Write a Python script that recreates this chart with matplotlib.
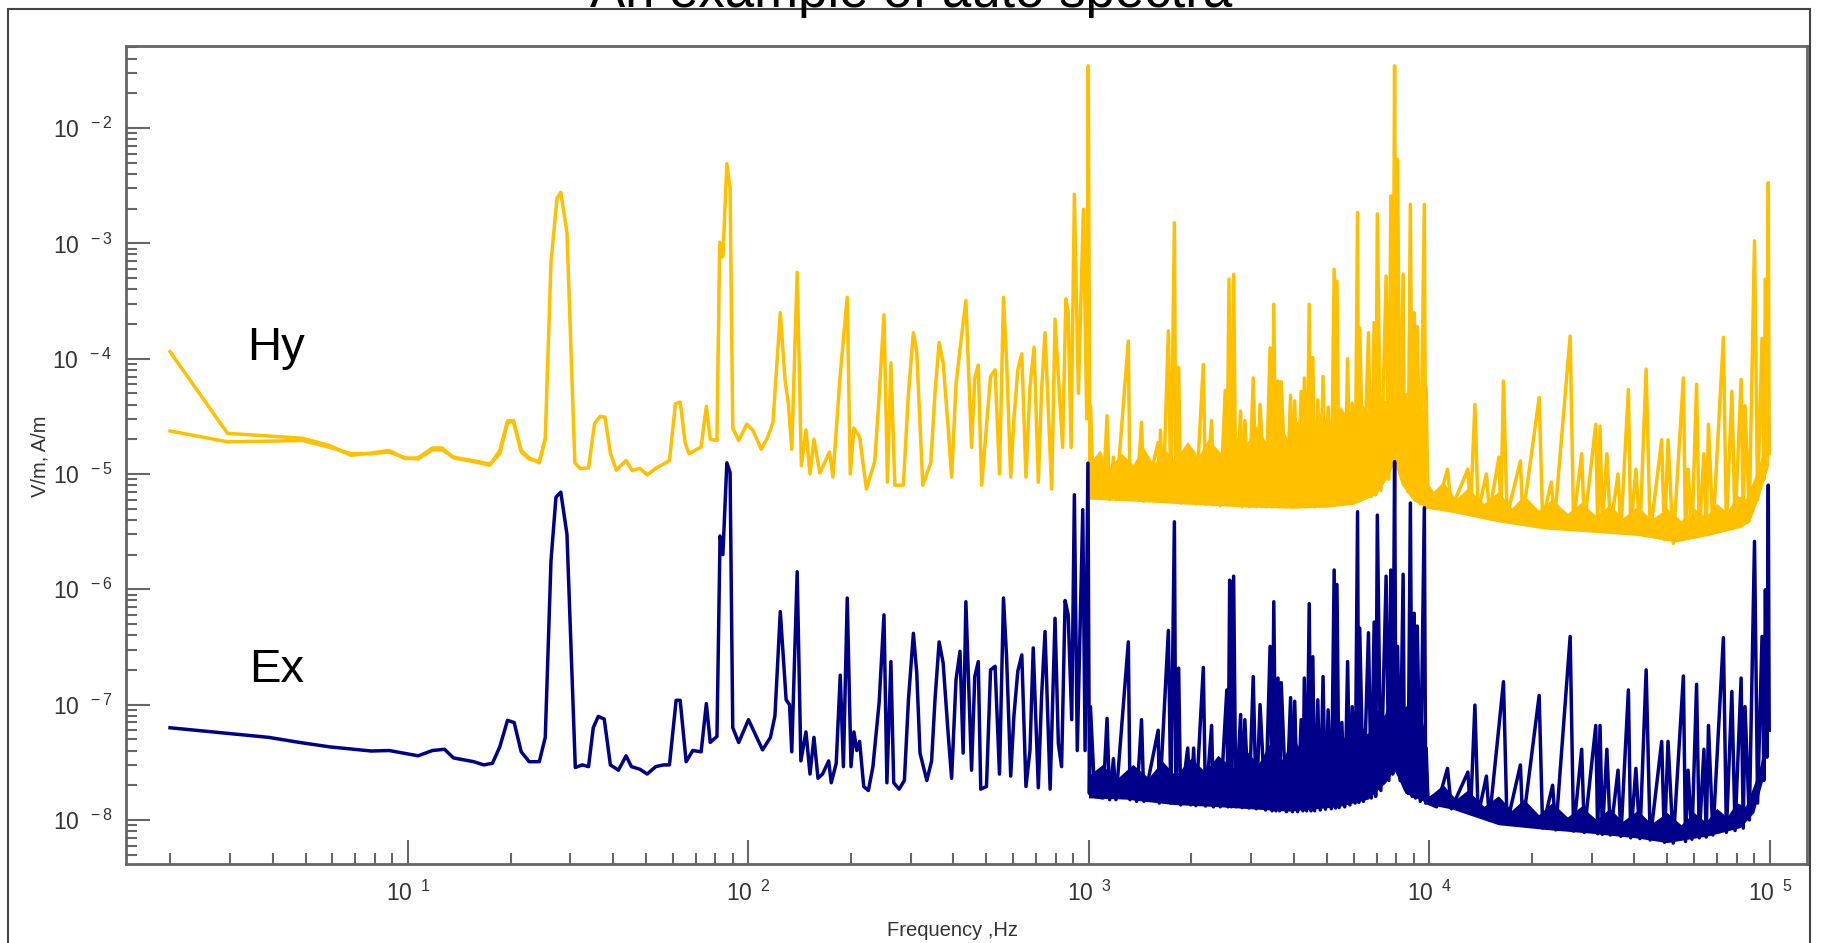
import numpy as np
import matplotlib
matplotlib.use("Agg")
import matplotlib.pyplot as plt
from matplotlib.ticker import LogLocator, FuncFormatter, NullFormatter
from matplotlib.patches import Rectangle

# ---- data (Hz, V/m or A/m) ----

# Hy trace
hy_f = [2.0, 2.95, 4.9, 5.9, 6.8, 7.8, 8.8, 9.8, 10.7, 11.8, 12.6, 13.6, 15.6, 17.4, 18.6,
        19.6, 20.4, 21.5, 22.7, 24.3, 25.3, 26.3, 27.4, 28.1, 29.3, 30.9, 32.1, 33.9, 35.3,
        36.7, 37.9, 39.3, 40.9, 43.7, 45.5, 48, 50.4, 53.4, 56.3, 58.6, 61, 63, 65.2, 66.9,
        72.6, 75.2, 77.2, 80.8, 82.3, 84.1, 86.4, 88.3, 89.9, 93.6,
        # 100 Hz - 1 kHz
        98.8, 103, 109, 114, 118, 124, 128, 131, 134, 139, 143, 147.5, 151.6, 155.7, 162,
        173, 177, 186, 195, 199, 204, 212, 222, 235, 242, 250, 256, 262, 269, 285, 295, 305,
        312, 325, 343, 353, 363, 373, 386, 395, 407, 418, 435, 452, 462, 473, 484, 514, 530,
        546, 561, 573, 589, 602, 618, 635, 653, 671, 690, 710, 726, 743, 777, 795, 813, 837,
        855, 869, 886, 906, 931, 963, 985, 995, 1007,
        # 1 kHz - 10 kHz
        1010, 1030, 1100, 1130, 1150, 1180, 1200, 1305, 1320, 1355, 1380, 1427, 1450, 1597,
        1610, 1622, 1650, 1711, 1740, 1782, 1800, 1834, 1860, 1971, 2000, 2030, 2060, 2167,
        2200, 2292, 2320, 2400, 2430, 2513, 2540, 2578, 2610, 2660, 2700, 2789, 2820, 2870,
        2950, 3037, 3100, 3180, 3300, 3404, 3450, 3490, 3540, 3591, 3630, 3670, 3800, 3910,
        3960, 4020, 4100, 4200, 4250, 4290, 4360, 4435, 4490, 4545, 4600, 4700, 4780, 4870,
        4950, 5040, 5150, 5250, 5300, 5350, 5430, 5530, 5640, 5750, 5840, 5930, 6050, 6150,
        6200, 6240, 6400, 6620, 6750, 6880, 6950, 7030, 7200, 7460, 7600, 7700, 7800, 7900,
        7980, 8060, 8200, 8370, 8450, 8560, 8650, 8790, 8900, 9020, 9100, 9210, 9400, 9660,
        9750, 9780, 9900,
        # 10 kHz - 100 kHz
        10500, 11300, 11600, 12970, 13200, 13600, 13900, 14700, 15000, 16000, 16200, 16500,
        16900, 18500, 18800, 21000, 21500, 22800, 23300, 25900, 26500, 28000, 28500, 30800,
        31200, 31700, 32200, 33200, 34000, 35800, 36500, 38400, 39000, 40400, 41500, 43300,
        44500, 48100, 49000, 50200, 52000, 55700, 56500, 57500, 59000, 60900, 62000, 64000,
        65000, 66000, 68000, 73000, 74500, 77300, 79000, 82300, 83500, 84500, 87000, 90100,
        92000, 94800, 96000, 97000, 98000, 98900, 99500]
hy_v = [1.15e-4, 2.25e-5, 2.04e-5, 1.76e-5, 1.45e-5, 1.52e-5, 1.6e-5, 1.36e-5, 1.38e-5, 1.68e-5,
        1.68e-5, 1.38e-5, 1.28e-5, 1.19e-5, 1.6e-5, 2.88e-5, 2.9e-5, 1.6e-5, 1.38e-5, 1.25e-5,
        2.04e-5, 6.9e-4, 2.47e-3, 2.77e-3, 1.24e-3, 1.25e-5, 1.11e-5, 1.13e-5, 2.74e-5, 3.17e-5,
        3.1e-5, 1.52e-5, 1.08e-5, 1.31e-5, 1.07e-5, 1.12e-5, 9.8e-6, 1.12e-5, 1.22e-5, 1.31e-5,
        4.05e-5, 4.2e-5, 1.85e-5, 1.5e-5, 1.72e-5, 3.86e-5, 2.0e-5, 1.95e-5, 1.02e-3, 7.6e-4,
        4.9e-3, 3.0e-3, 2.5e-5, 1.95e-5,
        2.7e-5, 2.4e-5, 1.64e-5, 2.1e-5, 2.8e-5, 2.5e-4, 6.6e-5, 4e-5, 1.64e-5, 5.6e-4, 1.18e-5,
        2.4e-5, 1e-5, 2e-5, 1.02e-5, 1.55e-5, 9.4e-6, 7.3e-5, 3.4e-4, 1e-5, 2.5e-5, 2.1e-5,
        7.4e-6, 1.3e-5, 4.8e-5, 2.4e-4, 8.5e-6, 9.2e-5, 8e-6, 8e-6, 5e-5, 1.68e-4, 1.15e-4, 8e-6,
        1.25e-5, 5e-5, 1.38e-4, 9.2e-5, 2.5e-5, 9.4e-6, 6e-5, 1.2e-4, 3.2e-4, 1.7e-5, 6.8e-5,
        8.8e-5, 8e-6, 7e-5, 8e-5, 1e-5, 3.4e-4, 9.5e-5, 9.4e-6, 3e-5, 8e-5, 1.1e-4, 9.4e-6,
        5.7e-5, 1.26e-4, 8.5e-6, 5.4e-5, 1.68e-4, 7.4e-6, 2.2e-4, 7e-5, 1.7e-5, 3.3e-4, 2.5e-4,
        1.7e-5, 2.66e-3, 5e-5, 1.97e-3, 3e-5, 3.45e-2, 6.9e-6,
        3.9e-5, 6.5e-6, 6.2e-6, 3.2e-5, 6e-6, 1.4e-5, 6e-6, 1.42e-4, 6e-6, 1.1e-5, 6e-6, 2.8e-5,
        5.8e-6, 1.87e-5, 6e-6, 2.4e-5, 5.8e-6, 1.74e-4, 5.8e-6, 1.51e-3, 6e-6, 8.4e-5, 5.6e-6,
        1.6e-5, 5.6e-6, 1.55e-5, 5.5e-6, 8.9e-5, 5.5e-6, 2.9e-5, 5.4e-6, 1.3e-5, 5.3e-6, 5.3e-5,
        5.4e-6, 4.9e-4, 5.6e-6, 5.4e-4, 5.4e-6, 3.5e-5, 5.2e-6, 2.9e-5, 5.2e-6, 6.8e-5, 5.2e-6,
        4e-5, 5.2e-6, 1.24e-4, 5.2e-6, 2.96e-4, 5.4e-6, 6.4e-5, 5.2e-6, 6.3e-5, 5.2e-6, 4.8e-5,
        5.2e-6, 4.3e-5, 5.2e-6, 5.2e-5, 5.3e-6, 6.8e-5, 5.3e-6, 2.96e-4, 5.3e-6, 1.02e-4, 5.2e-6,
        4.4e-5, 5.3e-6, 7e-5, 5.3e-6, 3.8e-5, 5.4e-6, 5.95e-4, 5.6e-6, 4.7e-4, 5.6e-6, 2.7e-5,
        5.6e-6, 1e-4, 5.8e-6, 4.1e-5, 6e-6, 1.85e-3, 6e-6, 1.85e-4, 6.2e-6, 1.68e-4, 6.4e-6,
        2.05e-4, 6.6e-6, 1.8e-3, 7.2e-6, 5.2e-4, 9e-6, 2.57e-3, 1.2e-5, 3.45e-2, 1.3e-5, 5.35e-3,
        1e-5, 5.4e-4, 8e-6, 4.9e-5, 7e-6, 2.18e-3, 6.5e-6, 2.5e-4, 6e-6, 1.9e-4, 5.5e-6, 2.18e-3,
        5e-6, 5.5e-5, 5.2e-6,
        5e-6, 1.1e-5, 5e-6, 1.1e-5, 4.8e-6, 4e-5, 4.7e-6, 1e-5, 4.6e-6, 1.4e-5, 4.4e-6, 6.4e-5,
        4.3e-6, 1.3e-5, 4.2e-6, 4.6e-5, 4e-6, 8.5e-6, 3.9e-6, 1.57e-4, 3.8e-6, 1.5e-5, 3.6e-6,
        2.7e-5, 3.5e-6, 2.6e-5, 3.5e-6, 1.5e-5, 3.4e-6, 1e-5, 3.3e-6, 5.4e-5, 3.2e-6, 1.1e-5,
        3.1e-6, 8.1e-5, 3e-6, 1.98e-5, 2.7e-6, 1.98e-5, 2.5e-6, 6.8e-5, 2.8e-6, 1.1e-5, 2.9e-6,
        6e-5, 3e-6, 1.5e-5, 3.1e-6, 2.7e-5, 3.2e-6, 1.53e-4, 3.4e-6, 5.2e-5, 3.6e-6, 6.6e-5,
        3.8e-6, 3.9e-5, 4.5e-6, 1.05e-3, 6e-6, 1.5e-4, 9e-6, 4.9e-4, 1.2e-5, 3.36e-3, 1.5e-5]

# second Hy pass visible at the low end
hy2_f = [2.0, 2.95, 4.9, 5.9, 6.8, 7.8, 8.8, 9.8, 10.7, 11.8, 12.6, 13.6, 15.6, 17.4, 18.6,
         19.6, 20.4, 21.5, 22.7, 24.3, 25.3]
hy2_v = [2.36e-5, 1.9e-5, 1.95e-5, 1.7e-5, 1.5e-5, 1.5e-5, 1.55e-5, 1.38e-5, 1.35e-5, 1.62e-5,
         1.62e-5, 1.4e-5, 1.3e-5, 1.22e-5, 1.5e-5, 2.8e-5, 2.85e-5, 1.55e-5, 1.35e-5, 1.28e-5,
         2.0e-5]

# dense noise of Hy above 1 kHz: upper and lower edge of the solid part
hy_top_f = [1000, 1080, 1150, 1250, 1350, 1450, 1550, 1680, 1800, 1950, 2100, 2250, 2450,
            2650, 2850, 3100, 3350, 3600, 3850, 4150, 4450, 4800, 5150, 5500, 5900, 6300,
            6700, 7100, 7500, 7900, 8300, 8700, 9100, 9500, 9800,
            10000, 10300, 11000, 12000, 13000, 14500, 16000, 17500, 19000, 21000, 23000,
            25500, 28000, 31000, 34000, 37000, 41000, 45000, 50000, 55000, 60000, 65000,
            70000, 75000, 80000, 85000, 90000, 94000, 97000, 99500]
hy_top_v = [1.2e-5, 1.6e-5, 1.1e-5, 1.5e-5, 1.2e-5, 1.7e-5, 1.2e-5, 1.6e-5, 1.3e-5, 1.9e-5,
            1.4e-5, 2e-5, 1.5e-5, 2.4e-5, 1.6e-5, 2.6e-5, 1.8e-5, 2.8e-5, 2e-5, 3e-5, 2.2e-5,
            3.4e-5, 2.5e-5, 3.8e-5, 2.8e-5, 4.2e-5, 3.2e-5, 5e-5, 4.2e-5, 7e-5, 4.5e-5, 5e-5,
            3.6e-5, 4e-5, 3e-5,
            8e-6, 7e-6, 8.5e-6, 6e-6, 7.5e-6, 5.5e-6, 7e-6, 5e-6, 6.5e-6, 4.8e-6, 6e-6, 4.5e-6,
            5.6e-6, 4.3e-6, 5.4e-6, 4.1e-6, 5.2e-6, 4e-6, 5e-6, 3.9e-6, 5e-6, 4.2e-6, 5.5e-6,
            4.6e-6, 6.5e-6, 6e-6, 9e-6, 1.3e-5, 2e-5, 3e-5]
hy_bot_f = [1000, 1300, 2000, 3000, 4000, 5000, 6000, 7000, 7600, 7900, 8300, 9000, 9800,
            10300, 11700, 16000, 21900, 30000, 41000, 53000, 66000, 82000, 87500, 93300,
            97800, 99500]
hy_bot_v = [6.0e-6, 5.8e-6, 5.4e-6, 5.1e-6, 5.0e-6, 5.1e-6, 5.4e-6, 6.6e-6, 9.5e-6, 1.26e-5,
            8e-6, 5.8e-6, 5.1e-6, 4.9e-6, 4.6e-6, 3.8e-6, 3.3e-6, 3.1e-6, 2.9e-6, 2.55e-6,
            2.9e-6, 3.4e-6, 3.8e-6, 6.4e-6, 1.0e-5, 1.2e-5]

# Ex trace
ex_f = [2.0, 3.9, 4.8, 5.9, 7.8, 8.8, 10.7, 11.8, 12.8, 13.6, 15.6, 16.7, 17.7, 18.6, 19.6,
        20.5, 21.5, 22.7, 24.3, 25.3, 26.3, 27.2, 28.1, 29.3, 31.0, 32.5, 33.9, 35.0, 36.2,
        37.7, 39.3, 41.5, 43.7, 45.3, 48, 50.4, 53.4, 56.3, 58.6, 61.3, 63, 65.6, 68.6, 72.6,
        75.2, 77.2, 80.8, 82.5, 84.1, 86.4, 88.3, 89.9, 93.6,
        # 100 Hz - 1 kHz
        100, 104.5, 110, 116, 119.6, 124, 129, 132, 134, 139, 142.5, 147.5, 151.6, 155.7, 160,
        165, 172, 175, 181, 186, 190, 195, 200, 204, 208, 212, 218, 225, 232, 242, 250, 255,
        262, 267, 277, 287, 295, 305, 312, 319, 334, 345, 353, 363, 373, 386, 395, 407, 418,
        427, 435, 452, 462, 473, 481, 500, 514, 530, 546, 561, 573, 589, 602, 618, 635, 653,
        671, 686, 710, 726, 743, 769, 795, 813, 831, 851, 869, 890, 906, 924, 959, 974, 993,
        1003,
        # 1 kHz - 10 kHz
        1010, 1040, 1100, 1130, 1150, 1180, 1200, 1305, 1320, 1355, 1380, 1427, 1450, 1597,
        1610, 1711, 1740, 1782, 1800, 1834, 1860, 1950, 1990, 2030, 2060, 2167, 2200, 2292,
        2320, 2400, 2430, 2540, 2560, 2590, 2620, 2660, 2700, 2789, 2820, 2870, 2950, 3037,
        3100, 3180, 3300, 3404, 3450, 3490, 3540, 3591, 3630, 3670, 3800, 3910, 3960, 4020,
        4100, 4200, 4250, 4290, 4360, 4435, 4490, 4545, 4600, 4700, 4780, 4870, 4950, 5040,
        5150, 5250, 5300, 5350, 5430, 5530, 5640, 5750, 5840, 5930, 6050, 6150, 6200, 6240,
        6400, 6620, 6750, 6880, 6950, 7030, 7200, 7460, 7600, 7700, 7800, 7900, 7980, 8060,
        8200, 8370, 8450, 8650, 8790, 8900, 9020, 9100, 9210, 9400, 9660, 9750, 9780, 9900,
        # 10 kHz - 100 kHz
        10500, 11300, 11600, 12970, 13200, 13600, 13900, 14700, 15000, 16500, 16900, 18500,
        18800, 21000, 21500, 23000, 23500, 25900, 26500, 28000, 28500, 30800, 31200, 31700,
        32200, 33200, 34000, 35800, 36500, 38400, 39000, 40400, 41500, 43300, 44500, 48100,
        49000, 50200, 52000, 55700, 56500, 57500, 59000, 60900, 62000, 64000, 65000, 66000,
        68000, 73000, 74500, 77300, 79000, 82300, 83500, 84500, 87000, 90100, 92000, 94800,
        96000, 97000, 98000, 98900, 99500]
ex_v = [6.3e-8, 5.2e-8, 4.7e-8, 4.3e-8, 3.96e-8, 4.0e-8, 3.6e-8, 4.0e-8, 4.1e-8, 3.45e-8,
        3.2e-8, 3.0e-8, 3.1e-8, 4.3e-8, 7.3e-8, 7.0e-8, 3.9e-8, 3.2e-8, 3.2e-8, 5.2e-8, 1.77e-6,
        6.3e-6, 6.95e-6, 3.0e-6, 2.85e-8, 3.0e-8, 2.9e-8, 6.3e-8, 7.9e-8, 7.5e-8, 3.0e-8, 2.7e-8,
        3.6e-8, 2.9e-8, 2.75e-8, 2.5e-8, 2.9e-8, 3.0e-8, 3.0e-8, 1.09e-7, 1.09e-7, 3.2e-8, 4.0e-8,
        3.9e-8, 1.02e-7, 4.7e-8, 5.3e-8, 2.9e-6, 2.0e-6, 1.25e-5, 1.03e-5, 6.3e-8, 4.7e-8,
        7.4e-8, 5.6e-8, 4.05e-8, 5.2e-8, 8e-8, 6.4e-7, 1.1e-7, 1.0e-7, 3.9e-8, 1.42e-6, 3.25e-8,
        5.8e-8, 2.5e-8, 5.2e-8, 2.3e-8, 2.5e-8, 3.25e-8, 2.1e-8, 3.1e-8, 1.8e-7, 2.9e-8, 8.4e-7,
        2.9e-8, 5.8e-8, 4e-8, 4.8e-8, 1.95e-8, 1.8e-8, 2.9e-8, 1.05e-7, 6e-7, 2.1e-8, 2.36e-7,
        2.1e-8, 1.85e-8, 2.2e-8, 1.1e-7, 4.15e-7, 1.9e-7, 3.8e-8, 2.2e-8, 3.25e-8, 1.1e-7, 3.5e-7,
        2.3e-7, 5.5e-8, 2.3e-8, 1.65e-7, 2.9e-7, 3.8e-8, 7.8e-7, 2.7e-8, 1.75e-7, 2.36e-7,
        1.85e-8, 1.95e-8, 2e-7, 2.15e-7, 2.5e-8, 8.4e-7, 2.55e-7, 2.4e-8, 8e-8, 1.95e-7, 2.7e-7,
        1.95e-8, 4e-8, 3.1e-7, 1.9e-8, 1.2e-7, 4.3e-7, 1.85e-8, 5.6e-7, 4.6e-8, 2.9e-8, 8e-7,
        6e-7, 7.4e-8, 6.6e-6, 4e-8, 4.9e-6, 4e-8, 1.24e-5, 1.7e-8,
        9.6e-8, 1.6e-8, 1.55e-8, 7.6e-8, 1.5e-8, 3.4e-8, 1.5e-8, 3.5e-7, 1.5e-8, 2.6e-8, 1.45e-8,
        7.4e-8, 1.45e-8, 6e-8, 1.4e-8, 4.4e-7, 1.4e-8, 3.85e-6, 1.4e-8, 2.07e-7, 1.35e-8, 4.2e-8,
        1.35e-8, 4.2e-8, 1.33e-8, 2.1e-7, 1.32e-8, 6.6e-8, 1.3e-8, 3e-8, 1.3e-8, 1.34e-7, 1.3e-8,
        1.2e-6, 1.3e-8, 1.3e-6, 1.3e-8, 8.2e-8, 1.28e-8, 7.4e-8, 1.27e-8, 1.75e-7, 1.25e-8, 1e-7,
        1.22e-8, 3.2e-7, 1.2e-8, 7.8e-7, 1.2e-8, 1.7e-7, 1.2e-8, 1.55e-7, 1.18e-8, 1.15e-7,
        1.18e-8, 1.07e-7, 1.18e-8, 7.4e-8, 1.2e-8, 1.7e-7, 1.2e-8, 7.5e-7, 1.2e-8, 2.6e-7, 1.2e-8,
        1.1e-7, 1.22e-8, 1.75e-7, 1.24e-8, 9e-8, 1.25e-8, 1.47e-6, 1.27e-8, 1.1e-6, 1.28e-8, 7e-8,
        1.3e-8, 2.36e-7, 1.35e-8, 9.6e-8, 1.4e-8, 4.7e-6, 1.42e-8, 4.6e-7, 1.45e-8, 4.2e-7,
        1.55e-8, 5.2e-7, 1.6e-8, 4.4e-6, 1.8e-8, 1.3e-6, 2.2e-8, 1.47e-6, 2.5e-8, 1.28e-5, 2.7e-8,
        3.2e-7, 2.2e-8, 1.35e-6, 1.9e-8, 1.7e-8, 5.6e-6, 1.6e-8, 6.2e-7, 1.55e-8, 4.8e-7, 1.45e-8,
        5.1e-6, 1.4e-8, 4.2e-8, 1.4e-8,
        1.3e-8, 2.8e-8, 1.25e-8, 2.6e-8, 1.15e-8, 9.9e-8, 1.1e-8, 2.4e-8, 1e-8, 1.58e-7, 9.3e-9,
        3e-8, 9e-9, 1.2e-7, 8.5e-9, 2e-8, 8.2e-9, 3.9e-7, 8e-9, 4.1e-8, 7.8e-9, 6.6e-8, 7.6e-9,
        6.6e-8, 7.5e-9, 4.1e-8, 7.4e-9, 2.7e-8, 7.2e-9, 1.34e-7, 7e-9, 2.8e-8, 6.9e-9, 2e-7,
        6.7e-9, 4.8e-8, 6.4e-9, 4.8e-8, 6.3e-9, 1.77e-7, 6.5e-9, 2.7e-8, 6.8e-9, 1.5e-7, 7e-9,
        4.1e-8, 7.1e-9, 6.6e-8, 7.4e-9, 3.8e-7, 7.8e-9, 1.3e-7, 8.1e-9, 1.7e-7, 8.5e-9, 9.6e-8,
        1e-8, 2.6e-6, 1.4e-8, 3.9e-7, 2.2e-8, 9.9e-7, 3.5e-8, 8e-6, 6e-8]

# dense noise of Ex above 1 kHz: upper and lower edge of the solid part
ex_top_f = [1000, 1100, 1200, 1350, 1500, 1650, 1800, 2000, 2200, 2400, 2650, 2900, 3150,
            3400, 3700, 4000, 4300, 4650, 5000, 5400, 5800, 6200, 6600, 7000, 7400, 7900,
            8300, 8700, 9100, 9500, 9800,
            10000, 10300, 11000, 12000, 13000, 14500, 16000, 17500, 19000, 21000, 23000,
            25500, 28000, 31000, 34000, 37000, 41000, 45000, 50000, 55000, 60000, 65000,
            70000, 75000, 80000, 85000, 90000, 94000, 97000, 99500]
ex_top_v = [2.4e-8, 3e-8, 2.2e-8, 3e-8, 2.3e-8, 3.2e-8, 2.4e-8, 3.4e-8, 2.6e-8, 3.6e-8, 2.8e-8,
            4e-8, 3e-8, 4.5e-8, 3.3e-8, 5e-8, 3.6e-8, 5.5e-8, 4e-8, 6e-8, 4.6e-8, 7e-8, 5.5e-8,
            9e-8, 8e-8, 1.6e-7, 9e-8, 1e-7, 7e-8, 8e-8, 5e-8,
            1.6e-8, 1.7e-8, 2e-8, 1.5e-8, 1.8e-8, 1.3e-8, 1.6e-8, 1.2e-8, 1.5e-8, 1.1e-8,
            1.4e-8, 1.05e-8, 1.3e-8, 1e-8, 1.25e-8, 9.6e-9, 1.2e-8, 9.2e-9, 1.15e-8, 9e-9,
            1.15e-8, 9.5e-9, 1.25e-8, 1.05e-8, 1.4e-8, 1.3e-8, 2e-8, 3e-8, 5e-8, 1.2e-7]
ex_bot_f = [1000, 1290, 1770, 2420, 3880, 5420, 6620, 7450, 7900, 8500, 9800, 10000, 11700,
            16000, 21900, 30000, 41000, 50000, 66000, 82000, 90000, 96000, 99500]
ex_bot_v = [1.54e-8, 1.5e-8, 1.35e-8, 1.29e-8, 1.18e-8, 1.29e-8, 1.5e-8, 2.08e-8, 2.7e-8,
            1.7e-8, 1.41e-8, 1.35e-8, 1.23e-8, 9e-9, 8.2e-9, 7.6e-9, 6.9e-9, 6.3e-9, 7.2e-9,
            8.5e-9, 1.15e-8, 2.3e-8, 6.1e-8]

hy_color = '#FFC000'
ex_color = '#000088'
grey = '#666666'

plt.rcParams['font.family'] = ['Liberation Sans', 'DejaVu Sans']
plt.rcParams['mathtext.fontset'] = 'custom'
plt.rcParams['mathtext.rm'] = 'Liberation Sans'
plt.rcParams['mathtext.it'] = 'Liberation Sans:italic'

fig = plt.figure(figsize=(18.23, 9.43), dpi=100)
ax = fig.add_axes([126 / 1823, 1 - 864 / 943, (1807 - 126) / 1823, (864 - 46) / 943])

# solid noise areas, outline = top edge then lower edge backwards
ax.fill(hy_top_f + hy_bot_f[::-1], hy_top_v + hy_bot_v[::-1], color=hy_color, lw=0)
ax.plot(hy2_f, hy2_v, color=hy_color, lw=2.5)
ax.plot(hy_f, hy_v, color=hy_color, lw=2.5)
ax.fill(ex_top_f + ex_bot_f[::-1], ex_top_v + ex_bot_v[::-1], color=ex_color, lw=0)
ax.plot(ex_f, ex_v, color=ex_color, lw=2.5)

ax.set_xscale('log')
ax.set_yscale('log')
ax.set_xlim(1.485, 1.285e5)
ax.set_ylim(4.15e-9, 5.14e-2)


def pow_label(v, pos):
    e = int(round(np.log10(v)))
    return r'$\mathregular{10^{\ \ %d}}$' % e


for axis in (ax.xaxis, ax.yaxis):
    axis.set_major_locator(LogLocator(base=10, numticks=20))
    axis.set_minor_locator(LogLocator(base=10, subs=np.arange(2, 10), numticks=20))
    axis.set_major_formatter(FuncFormatter(pow_label))
    axis.set_minor_formatter(NullFormatter())

ax.tick_params(which='both', direction='in', color=grey, width=1.5, labelsize=16.5,
               labelcolor='#333333', top=False, right=False)
ax.tick_params(which='major', length=17)
ax.tick_params(which='minor', length=8)
ax.tick_params(axis='y', pad=10)
ax.tick_params(axis='x', pad=12)
for s in ax.spines.values():
    s.set_color(grey)
    s.set_linewidth(2.0)

fig.text(0.5, 1 - 7 / 943, 'An example of auto spectra', ha='center', va='baseline',
         fontsize=38)
fig.text(40 / 1823, 1 - 456 / 943, 'V/m, A/m', rotation=90, ha='center', va='center',
         fontsize=14.5, color='#333333')
fig.text(953 / 1823, 1 - 930 / 943, 'Frequency ,Hz', ha='center', va='center',
         fontsize=14.5, color='#333333')
fig.text(247 / 1823, 1 - 360 / 943, 'Hy', ha='left', va='baseline', fontsize=34)
fig.text(249 / 1823, 1 - 682 / 943, 'Ex', ha='left', va='baseline', fontsize=34)

fig.patches.append(Rectangle((8 / 1823, -0.05), (1810 - 8) / 1823, 1.05 - 9 / 943,
                             transform=fig.transFigure, fill=False, ec='#444444', lw=1.5))

fig.savefig('out.png', dpi=100)
